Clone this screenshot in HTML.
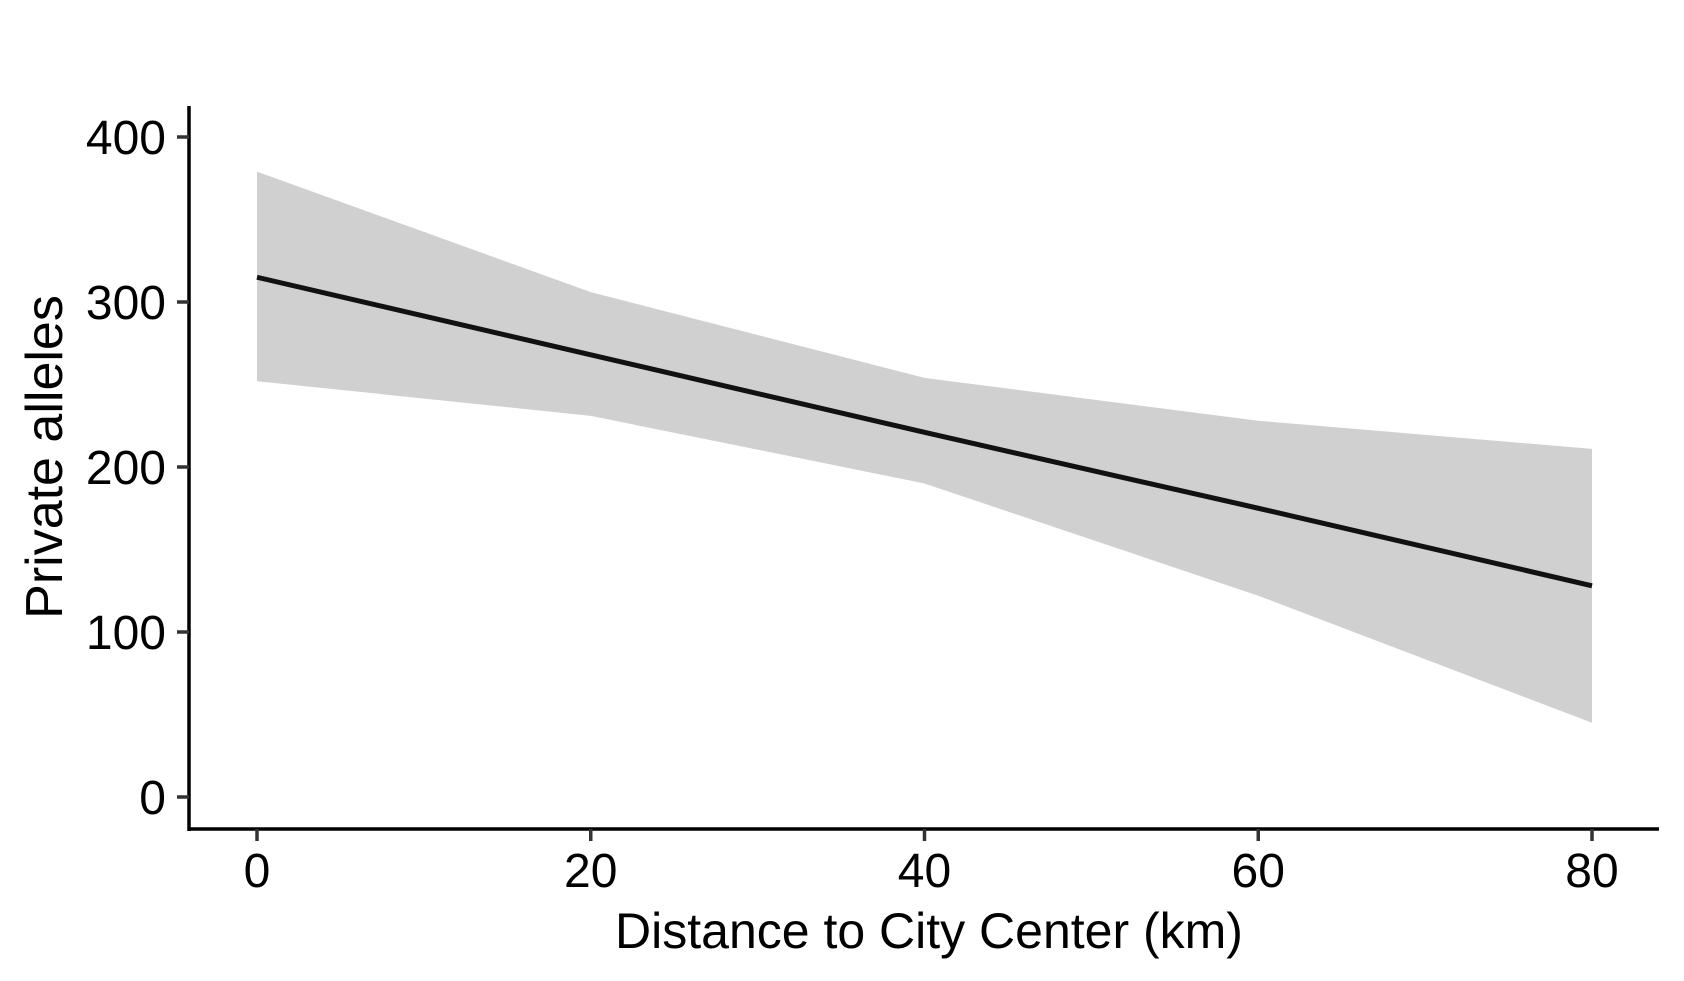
<!DOCTYPE html>
<html><head><meta charset="utf-8"><style>body{margin:0;background:#fff}svg{display:block}text{font-family:"Liberation Sans",Arial,sans-serif;fill:#000}</style></head>
<body>
<svg id="chart" width="1684" height="981" viewBox="0 0 1684 981" xmlns="http://www.w3.org/2000/svg">
<g id="band"></g>
<g id="line"></g>
<g id="axes"></g>
<text x="929" y="948" font-size="50" text-anchor="middle">Distance to City Center (km)</text>
<text transform="translate(62,457) rotate(-90)" font-size="52" text-anchor="middle">Private alleles</text>
</svg>
<script>
const xCats = [0, 20, 40, 60, 80];
const upperVals = [379, 306, 254, 228, 211];
const lowerVals = [252, 231, 190, 122, 45];
const fitVals = [315, 268, 221, 175, 128];
const xTicks = [0, 20, 40, 60, 80];
const yTicks = [0, 100, 200, 300, 400];
const NS = "http://www.w3.org/2000/svg";
const xs = v => 257 + v * (1592 - 257) / 80;
const ys = v => 797 - v * 1.65;
function mk(t, a, p) { const e = document.createElementNS(NS, t); for (const k in a) e.setAttribute(k, a[k]); p.appendChild(e); return e; }
const band = document.getElementById('band');
let pts = xCats.map((x, i) => xs(x) + ',' + ys(upperVals[i]));
pts = pts.concat(xCats.map((x, i) => xs(x) + ',' + ys(lowerVals[i])).reverse());
const poly = mk('polygon', { points: pts.join(' '), fill: '#d0d0d0' }, band);


const ln = mk('polyline', { points: xCats.map((x, i) => xs(x) + ',' + ys(fitVals[i])).join(' '), fill: 'none', stroke: '#111', 'stroke-width': 5 }, document.getElementById('line'));


const ax = document.getElementById('axes');
const ya = mk('line', { x1: 189, y1: 106, x2: 189, y2: 831, stroke: '#000', 'stroke-width': 3.5 }, ax);


const xa = mk('line', { x1: 188, y1: 829, x2: 1659, y2: 829, stroke: '#000', 'stroke-width': 3.5 }, ax);


yTicks.forEach(v => {
  const t = mk('line', { x1: 177, y1: ys(v), x2: 189, y2: ys(v), stroke: '#333', 'stroke-width': 3.5 }, ax);
  
  
  const l = mk('text', { x: 166, y: ys(v) + 17, 'font-size': 48, 'text-anchor': 'end' }, ax);
  l.textContent = v;
  
  
});
xTicks.forEach(v => {
  const t = mk('line', { x1: xs(v), y1: 829, x2: xs(v), y2: 841, stroke: '#333', 'stroke-width': 3.5 }, ax);
  
  
  const l = mk('text', { x: xs(v), y: 887, 'font-size': 48, 'text-anchor': 'middle' }, ax);
  l.textContent = v;
  
  
});
</script>
</body></html>
